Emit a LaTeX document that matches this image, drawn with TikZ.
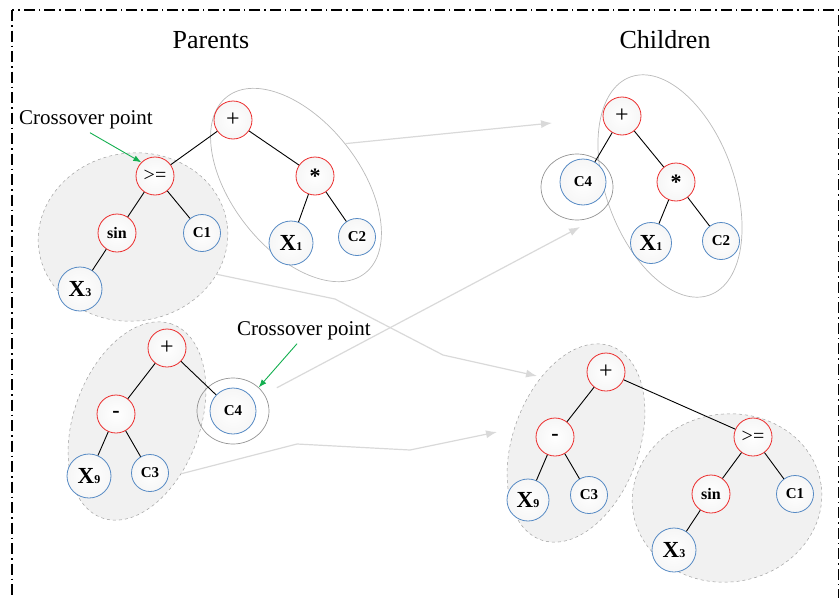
\documentclass[tikz,border=0pt]{standalone}
\usepackage{fontspec}
\setmainfont{Liberation Serif}
\usepackage{tikz}
\usetikzlibrary{shapes.geometric, arrows.meta, positioning}
\definecolor{opred}{RGB}{236,45,45}
\definecolor{leafblue}{RGB}{86,138,196}
\definecolor{crossgreen}{RGB}{20,175,80}
\definecolor{groupfill}{RGB}{241,241,241}
\newcommand{\xvar}[1]{{\fontsize{23}{23}\selectfont\bfseries X}{\fontsize{12}{12}\selectfont\bfseries #1}}

\begin{document}
\begin{tikzpicture}[
    x=1pt, y=-1pt,
    opnode/.style={circle, draw=opred, line width=0.8pt, inner color=white, outer color=gray!7, minimum size=38pt, inner sep=0pt, font=\fontsize{20}{20}\selectfont},
    leaf/.style={circle, draw=leafblue, line width=0.8pt, inner color=white, outer color=gray!7, minimum size=37pt, inner sep=0pt, font=\fontsize{15}{15}\selectfont\bfseries},
    xleaf/.style={leaf, minimum size=44pt},
    subtree/.style={ellipse, draw=gray!75, dashed, line width=0.5pt, fill=groupfill, inner sep=0pt},
    hull/.style={ellipse, draw=gray!55, line width=0.7pt, inner sep=0pt},
    ring/.style={ellipse, draw=gray!85, line width=0.7pt, inner sep=0pt, minimum width=72pt, minimum height=66pt},
    edge/.style={draw=black, line width=0.9pt},
    xarrow/.style={draw=gray!30, line width=1.2pt, -{Latex[length=11pt,width=8pt]}},
    garrow/.style={draw=crossgreen, line width=0.9pt, -{Latex[length=8pt,width=6pt]}},
    title/.style={font=\fontsize{26}{26}\selectfont},
    note/.style={font=\fontsize{21}{21}\selectfont}
]
    \useasboundingbox (0,0) rectangle (840,597);
    \draw[line width=1.4pt, dash pattern=on 11pt off 4pt on 1.5pt off 4pt] (12,10) rectangle (838.5,640);

    % groups behind the trees
    \node[subtree, minimum width=190pt, minimum height=168pt, rotate=8] (pg1a) at (133,237) {};
    \node[hull, minimum width=224pt, minimum height=128pt, rotate=-52] (pg1b) at (296,185) {};
    \node[subtree, minimum width=206pt, minimum height=126pt, rotate=70] (pg2) at (137,421) {};
    \node[ring] (pring) at (233,411) {};
    \node[hull, minimum width=232pt, minimum height=128pt, rotate=-70] (cg1) at (670,186) {};
    \node[ring] (cring) at (577,187) {};
    \node[subtree, minimum width=206pt, minimum height=126pt, rotate=70] (cg2) at (576,443) {};
    \node[subtree, minimum width=190pt, minimum height=168pt, rotate=8] (cg3) at (727,498) {};

    \node[title] (parents) at (211,40) {Parents};
    \node[title] (children) at (665,40) {Children};

    % parent 1
    \node[opnode, font=\fontsize{24}{24}\selectfont] (p1plus) at (233,120) {+};
    \node[opnode] (p1ge) at (155,176) {>=};
    \node[opnode, font=\fontsize{22}{22}\selectfont\bfseries] (p1star) at (315,176) {*};
    \node[opnode, font=\fontsize{16}{16}\selectfont\bfseries] (p1sin) at (117,233) {sin};
    \node[leaf] (p1c1) at (202,233) {C1};
    \node[xleaf] (p1x1) at (291,243) {\xvar{1}};
    \node[leaf] (p1c2) at (357,237) {C2};
    \node[xleaf] (p1x3) at (80,289) {\xvar{3}};

    \draw[edge] (p1plus) -- (p1ge);
    \draw[edge] (p1plus) -- (p1star);
    \draw[edge] (p1ge) -- (p1sin);
    \draw[edge] (p1ge) -- (p1c1);
    \draw[edge] (p1sin) -- (p1x3);
    \draw[edge] (p1star) -- (p1x1);
    \draw[edge] (p1star) -- (p1c2);

    % parent 2
    \node[opnode, font=\fontsize{24}{24}\selectfont] (p2plus) at (167,348) {+};
    \node[opnode, font=\fontsize{22}{22}\selectfont\bfseries] (p2minus) at (116,414) {-};
    \node[leaf, minimum size=46pt] (p2c4) at (233,411) {C4};
    \node[xleaf] (p2x9) at (89,476) {\xvar{9}};
    \node[leaf] (p2c3) at (150,473) {C3};

    \draw[edge] (p2plus) -- (p2minus);
    \draw[edge] (p2plus) -- (p2c4);
    \draw[edge] (p2minus) -- (p2x9);
    \draw[edge] (p2minus) -- (p2c3);

    % child 1
    \node[opnode, font=\fontsize{24}{24}\selectfont] (c1plus) at (622,116) {+};
    \node[leaf, minimum size=46pt] (c1c4) at (583,182) {C4};
    \node[opnode, font=\fontsize{22}{22}\selectfont\bfseries] (c1star) at (676,182) {*};
    \node[xleaf, minimum size=41pt] (c1x1) at (651,243) {\xvar{1}};
    \node[leaf] (c1c2) at (721,241) {C2};

    \draw[edge] (c1plus) -- (c1c4);
    \draw[edge] (c1plus) -- (c1star);
    \draw[edge] (c1star) -- (c1x1);
    \draw[edge] (c1star) -- (c1c2);

    % child 2
    \node[opnode, font=\fontsize{24}{24}\selectfont] (c2plus) at (606,372) {+};
    \node[opnode, font=\fontsize{22}{22}\selectfont\bfseries] (c2minus) at (555,437) {-};
    \node[xleaf, minimum size=42pt] (c2x9) at (528,500) {\xvar{9}};
    \node[leaf] (c2c3) at (589,495) {C3};
    \node[opnode] (c2ge) at (753,437) {>=};
    \node[opnode, font=\fontsize{16}{16}\selectfont\bfseries] (c2sin) at (711,494) {sin};
    \node[leaf] (c2c1) at (795,494) {C1};
    \node[xleaf] (c2x3) at (674,550) {\xvar{3}};

    \draw[edge] (c2plus) -- (c2minus);
    \draw[edge] (c2plus) -- (c2ge);
    \draw[edge] (c2minus) -- (c2x9);
    \draw[edge] (c2minus) -- (c2c3);
    \draw[edge] (c2ge) -- (c2sin);
    \draw[edge] (c2ge) -- (c2c1);
    \draw[edge] (c2sin) -- (c2x3);

    % crossover notes
    \node[note] (cp1) at (86,120) {Crossover point};
    \node[note] (cp2) at (304,331) {Crossover point};
    \draw[garrow] ([xshift=4pt]cp1.south) -- (p1ge.north west);
    \draw[garrow] ([xshift=-7pt]cp2.south) -- (pring.north east);

    % gray connectors parents -> children
    \coordinate (tipD) at (552,123);
    \coordinate (tipB) at (580,227);
    \coordinate (bendA1) at (335,299);
    \coordinate (bendA2) at (443,355);
    \coordinate (tipA) at (537,376);
    \coordinate (bendC1) at (297,444);
    \coordinate (bendC2) at (410,450);
    \coordinate (tipC) at (497,432);
    \draw[xarrow] (pg1b.92) -- (tipD);
    \draw[xarrow, shorten <=14pt] (pring) -- (tipB);
    \draw[xarrow] (pg1a.-32) -- (bendA1) -- (bendA2) -- (tipA);
    \draw[xarrow] (pg2.-120) -- (bendC1) -- (bendC2) -- (tipC);
\end{tikzpicture}
\end{document}
